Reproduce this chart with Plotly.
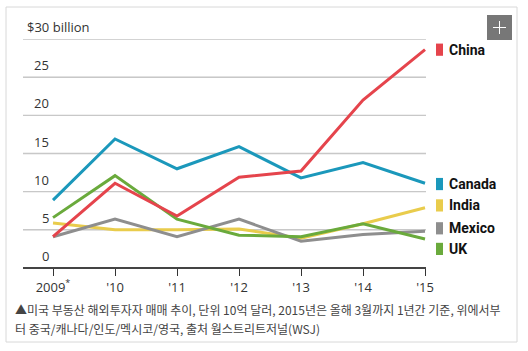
import plotly.graph_objects as go

years = [2009, 2010, 2011, 2012, 2013, 2014, 2015]
xtick_labels = ["2009<sup>*</sup>", "'10", "'11", "'12", "'13", "'14", "'15"]
ytick_vals = [0, 5, 10, 15, 20, 25, 30]
ytick_labels = ["0", "5", "10", "15", "20", "25", "$30 billion"]

china = [4.1, 11.1, 6.8, 11.9, 12.7, 22.0, 28.6]
canada = [8.9, 16.9, 13.0, 15.9, 11.8, 13.8, 11.1]
india = [5.9, 5.0, 5.0, 5.1, 3.9, 5.8, 7.9]
mexico = [4.1, 6.4, 4.1, 6.4, 3.5, 4.4, 4.8]
uk = [6.6, 12.1, 6.4, 4.3, 4.1, 5.8, 3.8]

series = [
    ("India", india, "#e9cc4c"),
    ("Mexico", mexico, "#8e8e8e"),
    ("UK", uk, "#6aaa3c"),
    ("Canada", canada, "#1b98bb"),
    ("China", china, "#e5444c"),
]
legend_pos = {"China": 28.6, "Canada": 11.0, "India": 8.2, "Mexico": 5.2, "UK": 2.5}

caption_lines = ["▲미국 부동산 해외투자자 매매 추이, 단위 10억 달러, 2015년은 올해 3월까지 1년간 기준, 위에서부",
                 "터 중국/캐나다/인도/멕시코/영국, 출처 월스트리트저널(WSJ)"]

W, H = 528, 351
XR = [2008.516, 2015.016]
fig = go.Figure()

for name, vals, col in series:
    fig.add_trace(go.Scatter(x=years, y=vals, mode="lines", name=name,
                             line=dict(color=col, width=3), showlegend=False))

ann = []
shapes = []
for v, t in zip(ytick_vals, ytick_labels):
    ann.append(dict(x=23 / W + (2 / W if v == 30 else 9 / W if v >= 10 else 17 / W),
                    xref="paper", y=v, yref="y", text=t, showarrow=False,
                    xanchor="left", yanchor="bottom", yshift=1,
                    font=dict(family="Open Sans", size=13, color="#333")))
    # gridline as a thin filled band placed on the y scale
    half = 0.11 if v == 0 else 0.09
    shapes.append(dict(type="rect", xref="x domain", yref="y",
                       layer="above" if v == 0 else "below",
                       x0=0, x1=1, y0=v - half, y1=v + half,
                       fillcolor="#444" if v == 0 else "#c4c4c4",
                       line=dict(width=0)))

for name, vals, col in series:
    yv = legend_pos[name]
    ann.append(dict(x=447 / W, xref="paper", y=yv, yref="y", text="<b>" + name + "</b>",
                    showarrow=False, xanchor="left", yanchor="middle",
                    font=dict(family="Roboto", size=14, color="#111")))
    shapes.append(dict(type="rect", xref="paper", yref="y",
                       x0=436 / W, x1=443 / W, y0=yv - 0.8, y1=yv + 0.8,
                       fillcolor=col, line=dict(width=0)))

for i, line in enumerate(caption_lines):
    ann.append(dict(x=13 / W, xref="paper", y=1 - (309 + 19 * i) / H, yref="paper",
                    text=line, showarrow=False, xanchor="left", yanchor="middle",
                    align="left",
                    font=dict(family="Noto Sans CJK KR", size=12, color="#444")))
# plus button
shapes.append(dict(type="rect", xref="paper", yref="paper",
                   x0=487 / W, x1=512 / W, y0=1 - 40 / H, y1=1 - 15 / H,
                   fillcolor="#777", line=dict(width=0)))
shapes.append(dict(type="rect", xref="paper", yref="paper",
                   x0=493 / W, x1=506 / W, y0=1 - 28 / H, y1=1 - 27 / H,
                   fillcolor="white", line=dict(width=0)))
shapes.append(dict(type="rect", xref="paper", yref="paper",
                   x0=499 / W, x1=500 / W, y0=1 - 21 / H, y1=1 - 34 / H,
                   fillcolor="white", line=dict(width=0)))
# frame
shapes.append(dict(type="rect", xref="paper", yref="paper", layer="below",
                   x0=6 / W, x1=517 / W, y0=1 - 342 / H, y1=1 - 7 / H,
                   line=dict(color="#d8d8d8", width=1)))

fig.update_layout(
    template="none",
    width=W, height=H, margin=dict(l=0, r=0, t=0, b=0),
    paper_bgcolor="white", plot_bgcolor="rgba(0,0,0,0)",
    xaxis=dict(domain=[23 / W, 426 / W], range=XR,
               tickmode="array", tickvals=years, ticktext=xtick_labels,
               ticks="outside", ticklen=7,
               tickcolor="#333", showgrid=False, zeroline=False, showline=False,
               tickfont=dict(family="Open Sans", size=13, color="#333")),
    yaxis=dict(domain=[(H - 268) / H, (H - 39) / H], range=[0, 30],
               tickmode="array", tickvals=ytick_vals, showticklabels=False,
               ticks="", showgrid=True, gridcolor="#c8c8c8", gridwidth=1.3,
               zeroline=True, zerolinecolor="#444", zerolinewidth=1.5, showline=False),
    annotations=ann, shapes=shapes,
)
fig.write_html("out.html")
